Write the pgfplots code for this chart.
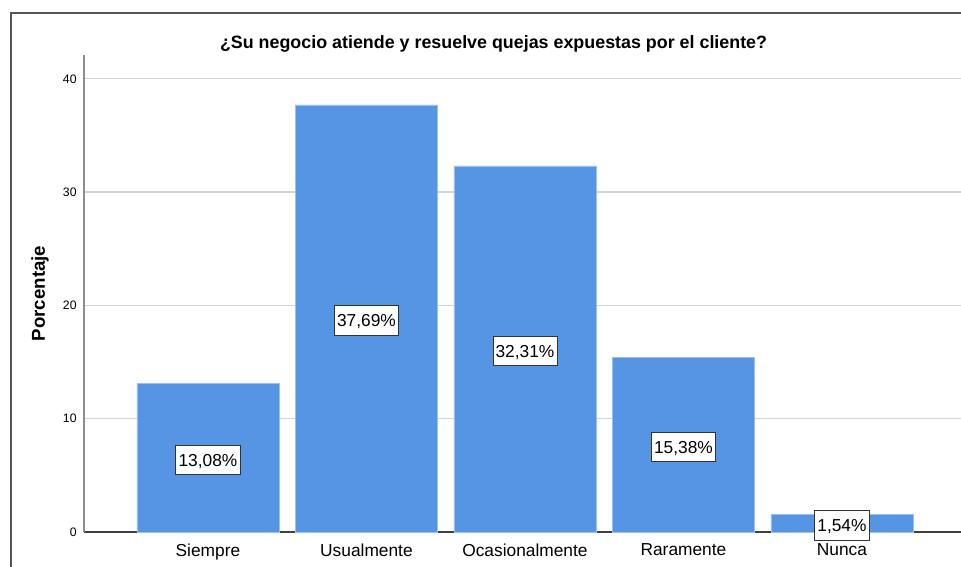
\documentclass[border=0pt]{standalone}
\usepackage{pgfplots}
\pgfplotsset{compat=1.18}
\usepackage{fontspec}
\setmainfont{Liberation Sans}
\definecolor{barblue}{HTML}{5595E4}
\definecolor{baredge}{HTML}{9CBFEF}
\definecolor{gridgray}{HTML}{D4D4D4}
\definecolor{framegray}{HTML}{555555}
\begin{document}
\begin{tikzpicture}[x=0.75pt,y=0.75pt]
\useasboundingbox (0,0) rectangle (961,567);
\draw[framegray, line width=0.9pt] (11,0) -- (11,554) -- (961,554);
\begin{axis}[
  at={(63pt,26.25pt)}, anchor=south west,
  scale only axis,
  width=657.75pt, height=357.75pt,
  xmin=-0.782, xmax=4.751,
  ymin=0, ymax=42.1,
  ybar, bar width=106.5pt, bar shift=0pt,
  axis x line*=bottom, axis y line*=left,
  x axis line style={draw=black!75, line width=0.9pt, -},
  y axis line style={draw=black!45, line width=0.9pt, -},
  xtick={0,1,2,3,4},
  xticklabels={Siempre,Usualmente,Ocasionalmente,Raramente,Nunca},
  ytick={0,10,20,30,40},
  major tick length=0pt,
  ymajorgrids, grid style={gridgray, line width=0.9pt},
  yticklabel style={font=\fontsize{9.2}{10}\selectfont, xshift=-2pt},
  xticklabel style={font=\fontsize{13}{15}\selectfont, yshift=-5.5pt},
  /pgf/number format/assume math mode=true,
  ylabel={\textbf{Porcentaje}},
  ylabel style={font=\fontsize{14}{16}\selectfont, at={(axis description cs:-0.0502,0.5)}, anchor=center, rotate=0},
  title={\textbf{¿Su negocio atiende y resuelve quejas expuestas por el cliente?}},
  title style={font=\fontsize{13.4}{16}\selectfont, at={(axis description cs:0.467,1)}, anchor=base, yshift=-1pt},
  point meta=explicit symbolic,
  nodes near coords,
  visualization depends on={y \as \rawy},
  every node near coord/.append style={
    anchor=center, shift={(axis direction cs:0,-\rawy/2)}, yshift=-1.5pt,
    draw=black!80, fill=white, line width=0.6pt,
    font=\fontsize{13}{15}\selectfont,
    inner xsep=2pt, minimum height=22pt, text height=9.5pt, text depth=0pt},
  clip=false,
]
\addplot[fill=barblue, draw=baredge, line width=0.6pt] coordinates {
  (0,13.08) [13,08\%]
  (1,37.69) [37,69\%]
  (2,32.31) [32,31\%]
  (3,15.38) [15,38\%]
  (4,1.54) [1,54\%]
};
\end{axis}
\end{tikzpicture}
\end{document}
